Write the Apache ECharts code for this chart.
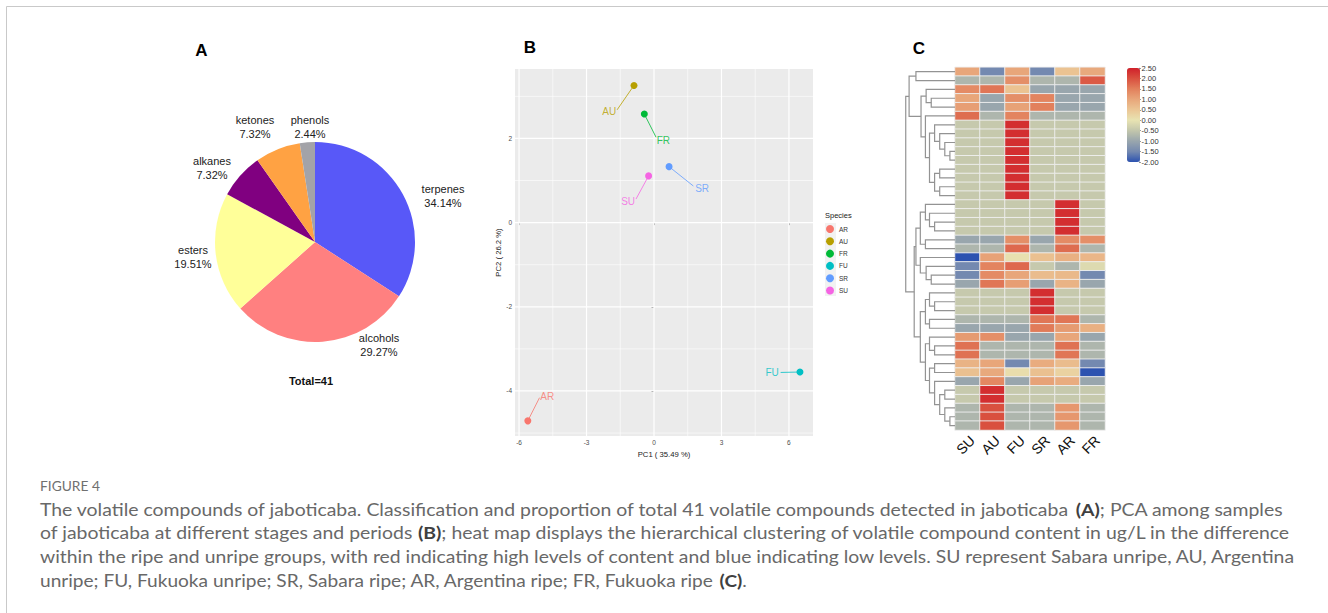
<!DOCTYPE html>
<html><head><meta charset="utf-8">
<script src="https://cdn.jsdelivr.net/npm/echarts@6/dist/echarts.min.js"></script>
<style>html,body{margin:0;padding:0;background:#fff;overflow:hidden}#main{width:1328px;height:613px}</style>
</head><body><div id="main"></div>
<script>
// ================= DATA =================
// Panel A: classes of volatile compounds (counts, total 41)
const pieCategories = ['terpenes', 'alcohols', 'esters', 'alkanes', 'ketones', 'phenols'];
const pieCounts = [14, 12, 8, 3, 3, 1];

// Panel B: PCA scores
const pcaSamples = ['AR', 'AU', 'FR', 'FU', 'SR', 'SU'];
const pcaPC1 = [-5.61, -0.89, -0.43, 6.49, 0.67, -0.24];
const pcaPC2 = [-4.71, 3.26, 2.58, -3.55, 1.33, 1.11];
const pcaXTicks = [-6, -3, 0, 3, 6];
const pcaYTicks = [-4, -2, 0, 2];

// Panel C: heat map (rows = 41 compounds in dendrogram order; cols = samples)
const heatColumns = ['SU', 'AU', 'FU', 'SR', 'AR', 'FR'];
const heatValues = [
  [1.00, -1.50, 1.00, -1.50, 0.55, 0.95],
  [-0.75, -0.75, 1.30, -0.75, -0.75, 1.90],
  [1.35, 1.60, 0.55, -1.00, -1.00, -1.00],
  [1.00, -1.00, 1.30, 1.45, -1.00, -1.00],
  [1.10, -1.00, 1.05, 1.50, -1.00, -1.00],
  [1.70, -0.75, 1.45, -0.75, -0.75, -0.75],
  [-0.45, -0.45, 2.35, -0.45, -0.45, -0.45],
  [-0.45, -0.45, 2.35, -0.45, -0.45, -0.45],
  [-0.45, -0.45, 2.35, -0.45, -0.45, -0.45],
  [-0.45, -0.45, 2.35, -0.45, -0.45, -0.45],
  [-0.45, -0.45, 2.35, -0.45, -0.45, -0.45],
  [-0.45, -0.45, 2.35, -0.45, -0.45, -0.45],
  [-0.45, -0.45, 2.35, -0.45, -0.45, -0.45],
  [-0.45, -0.45, 2.35, -0.45, -0.45, -0.45],
  [-0.45, -0.45, 2.35, -0.45, -0.45, -0.45],
  [-0.45, -0.45, -0.45, -0.45, 2.35, -0.45],
  [-0.45, -0.45, -0.45, -0.45, 2.35, -0.45],
  [-0.45, -0.45, -0.45, -0.45, 2.35, -0.45],
  [-0.45, -0.45, -0.45, -0.45, 2.35, -0.45],
  [-1.00, -1.00, 1.30, -1.00, 1.35, 1.30],
  [-0.75, -0.75, 1.75, -0.75, 1.70, -0.75],
  [-2.00, 1.05, 0.05, 0.60, 0.85, 0.75],
  [-1.50, 1.45, 1.75, -0.45, -0.75, -0.15],
  [-1.50, 1.35, 1.00, 0.65, 0.70, -1.50],
  [-1.00, 1.60, 1.10, -1.00, 0.80, -1.00],
  [-0.45, -0.45, -0.45, 2.35, -0.45, -0.45],
  [-0.45, -0.45, -0.45, 2.35, -0.45, -0.45],
  [-0.45, -0.45, -0.45, 2.35, -0.45, -0.45],
  [-0.75, -0.75, -0.75, 1.60, 1.60, -0.75],
  [-1.00, -1.00, -1.00, 1.55, 1.15, 0.85],
  [1.15, 1.30, -1.00, -1.00, 1.00, -1.00],
  [1.65, -0.75, -0.75, -0.75, 1.65, -0.75],
  [1.65, -0.75, -0.75, -0.75, 1.60, -0.75],
  [0.80, 1.00, -1.50, 0.90, 0.65, -1.50],
  [0.60, 0.95, 0.10, 0.60, 0.30, -2.00],
  [-1.00, 1.40, -1.00, 1.05, 0.90, -1.00],
  [-0.45, 2.35, -0.45, -0.45, -0.45, -0.45],
  [-0.45, 2.35, -0.45, -0.45, -0.45, -0.45],
  [-0.75, 2.00, -0.75, -0.75, 1.20, -0.75],
  [-0.75, 2.00, -0.75, -0.75, 1.20, -0.75],
  [-0.75, 2.00, -0.75, -0.75, 1.20, -0.75]
];
// Row dendrogram, hclust-style merges: [a, b, height]; negative = leaf (row) index, positive = earlier merge
const dendroMerges = [
  [-10, -11, 5], [-9, 1, 10], [-8, 2, 15], [-7, 3, 20], [-12, -13, 15], [-14, -15, 15],
  [5, 6, 20], [4, 7, 25], [-6, 8, 29], [-4, -5, 23.3], [-3, 10, 28.3], [11, 9, 33.3],
  [-1, -2, 38.3], [13, 12, 45],
  [-18, -19, 20], [-17, 15, 25], [-16, 16, 29], [-20, -21, 29], [17, 18, 34],
  [-24, -25, 23.3], [-23, 20, 28.3], [-22, 21, 34], [19, 22, 38.3],
  [-27, -28, 20], [-26, 24, 25], [-29, -30, 25], [25, 26, 29],
  [-32, -33, 20], [-31, 28, 25], [-34, -35, 20], [-37, -38, 10], [-40, -41, 5], [-39, 32, 10],
  [31, 33, 15], [-36, 34, 20], [30, 35, 25], [29, 36, 29], [27, 37, 34],
  [23, 38, 40], [14, 39, 48.3]
];
const colorbarMin = -2;
const colorbarMax = 2.5;
const colorbarStep = 0.5;

// ================= LAYOUT / STYLE =================
const FONT = 'Liberation Sans, Arial, sans-serif';
const pieColors = ['#5858F8', '#FF8080', '#FFFF99', '#800080', '#FFA243', '#A3A3A8'];
const pieCenter = [315, 242];
const pieLabelOffsets = [[128, -46], [64, 103], [-122, 15], [-103, -74], [-60, -115], [-5, -115]];
const pcaColors = {AR: '#F8766D', AU: '#B79F00', FR: '#00BA38', FU: '#00BFC4', SR: '#619CFF', SU: '#F564E3'};
// ggrepel-like label anchors and segment ends, in data units
const pcaLabelPos = {AR: [-4.75, -4.14], AU: [-1.99, 2.64], FR: [0.42, 1.95], FU: [5.25, -3.56], SR: [2.14, 0.80], SU: [-1.15, 0.50]};
const pcaSegEnd = {AR: [-5.09, -4.16], AU: [-1.64, 2.68], FR: [0.09, 2.03], FU: [5.63, -3.56], SR: [1.75, 0.87], SU: [-0.80, 0.56]};
const pcaXRange = [-6.18, 7.07];
const pcaYRange = [-5.07, 3.65];
const heatColors = ['#2C52B0', '#7489B0', '#99A6AD', '#C2C6AC', '#E8E3B2', '#EBC695', '#E8A67A', '#E2805C', '#D9503F', '#D0202A'];

// ================= BUILD =================
const chart = echarts.init(document.getElementById('main'), null, {renderer: 'svg'});
const total = pieCounts.reduce((a, b) => a + b, 0);

// grid lines for ggplot style panel
function midTicks(t, lo, hi) {
  const step = t[1] - t[0];
  const out = [t[0] - step / 2];
  for (let i = 0; i < t.length - 1; i++) out.push((t[i] + t[i + 1]) / 2);
  out.push(t[t.length - 1] + step / 2);
  return out.filter(v => v >= lo && v <= hi);
}
const pcaGridData = [];
midTicks(pcaXTicks, pcaXRange[0], pcaXRange[1]).forEach(v => pcaGridData.push([v, 0, 0]));
midTicks(pcaYTicks, pcaYRange[0], pcaYRange[1]).forEach(v => pcaGridData.push([v, 1, 0]));
pcaXTicks.forEach(v => pcaGridData.push([v, 0, 1]));
pcaYTicks.forEach(v => pcaGridData.push([v, 1, 1]));

// dendrogram segments
function buildDendro(merges) {
  const nodes = [], segs = [];
  const pos = r => r < 0 ? {y: -r, h: 0} : nodes[r - 1];
  merges.forEach(([a, b, h]) => {
    const A = pos(a), B = pos(b);
    segs.push([A.h, A.y, h, B.y, B.h]);
    nodes.push({y: (A.y + B.y) / 2, h: h});
  });
  return segs;
}
const dendroSegs = buildDendro(dendroMerges);
const dendroMax = 50;

const heatData = [];
heatValues.forEach((row, r) => row.forEach((v, c) => heatData.push([c, r, v])));
const rowIds = heatValues.map((_, i) => String(i + 1));

const series = [];
// PCA grid lines
series.push({
  type: 'custom', name: 'pca-grid', xAxisIndex: 0, yAxisIndex: 0, silent: true, z: 1,
  data: pcaGridData,
  renderItem: (params, api) => {
    const v = api.value(0), o = api.value(1), major = api.value(2);
    const p1 = o === 0 ? api.coord([v, pcaYRange[0]]) : api.coord([pcaXRange[0], v]);
    const p2 = o === 0 ? api.coord([v, pcaYRange[1]]) : api.coord([pcaXRange[1], v]);
    return {type: 'line', shape: {x1: p1[0], y1: p1[1], x2: p2[0], y2: p2[1]},
      style: {stroke: '#FFFFFF', lineWidth: major ? 1.2 : 0.6}};
  }
});
pcaSamples.forEach((s, i) => {
  series.push({
    type: 'line', name: s + '-seg', xAxisIndex: 0, yAxisIndex: 0, silent: true, z: 2,
    symbol: 'none', lineStyle: {color: pcaColors[s], width: 0.8},
    data: [[pcaPC1[i], pcaPC2[i]], pcaSegEnd[s]]
  });
});
pcaSamples.forEach((s, i) => {
  series.push({
    type: 'scatter', name: s, xAxisIndex: 0, yAxisIndex: 0, z: 4,
    symbol: 'circle', symbolSize: 7, itemStyle: {color: pcaColors[s], opacity: 1},
    data: [[pcaPC1[i], pcaPC2[i]]]
  });
});
series.push({
  type: 'scatter', name: 'pca-labels', xAxisIndex: 0, yAxisIndex: 0, z: 5, silent: true,
  symbolSize: 0,
  data: pcaSamples.map(s => ({value: pcaLabelPos[s], name: s,
    label: {show: true, position: 'inside', formatter: s, color: pcaColors[s], fontSize: 10, fontFamily: FONT}}))
});
// Pie
series.push({
  type: 'pie', name: 'classes', center: pieCenter, radius: 100, startAngle: 90, clockwise: true,
  silent: true, avoidLabelOverlap: false,
  data: pieCategories.map((c, i) => ({name: c, value: pieCounts[i], itemStyle: {color: pieColors[i]}})),
  label: {show: true, position: 'outside', formatter: '{b}\n{d}%', fontSize: 11, lineHeight: 14.5,
    color: '#222', fontFamily: FONT},
  labelLine: {show: false},
  labelLayout: p => ({x: pieCenter[0] + pieLabelOffsets[p.dataIndex][0], y: pieCenter[1] + pieLabelOffsets[p.dataIndex][1],
    align: 'center', verticalAlign: 'middle'})
});
// Heat map
const heatSeriesIndex = series.length;
series.push({
  type: 'heatmap', name: 'heat', xAxisIndex: 1, yAxisIndex: 1, data: heatData,
  itemStyle: {borderColor: '#EFEFEF', borderWidth: 0.9}, emphasis: {disabled: true}, silent: true
});
// Dendrogram
series.push({
  type: 'custom', name: 'dendro', xAxisIndex: 2, yAxisIndex: 2, silent: true,
  data: dendroSegs, encode: {x: [0, 2, 4], y: [1, 3]},
  renderItem: (params, api) => {
    const pts = [
      api.coord([api.value(0), api.value(1)]),
      api.coord([api.value(2), api.value(1)]),
      api.coord([api.value(2), api.value(3)]),
      api.coord([api.value(4), api.value(3)])
    ];
    return {type: 'polyline', shape: {points: pts}, style: {stroke: '#939393', lineWidth: 1.2, fill: null}};
  }
});

// caption
const captionLines = [
  [['The volatile compounds of jaboticaba. Classification and proportion of total 41 volatile compounds detected in jaboticaba ', 0], ['(A)', 1], ['; PCA among samples', 0]],
  [['of jaboticaba at different stages and periods ', 0], ['(B)', 1], ['; heat map displays the hierarchical clustering of volatile compound content in ug/L in the difference', 0]],
  [['within the ripe and unripe groups, with red indicating high levels of content and blue indicating low levels. SU represent Sabara unripe, AU, Argentina', 0]],
  [['unripe; FU, Fukuoka unripe; SR, Sabara ripe; AR, Argentina ripe; FR, Fukuoka ripe ', 0], ['(C)', 1], ['.', 0]]
];
const capX = 40, capY = [509, 532.5, 556, 580], capW = [1243, 1251, 1257, 707];
const capFont = 'Lato', capSize = 17.5;
const mctx = document.createElement('canvas').getContext('2d');
function measure(parts) {
  let w = 0;
  parts.forEach(([t, b]) => { mctx.font = (b ? 'bold ' : '') + capSize + 'px ' + capFont; w += mctx.measureText(t).width; });
  return w;
}
const graphics = [];
graphics.push({type: 'rect', shape: {x: 6.5, y: 6.5, width: 1340, height: 640}, style: {fill: null, stroke: '#C9C9C9', lineWidth: 1}, silent: true});
captionLines.forEach((parts, i) => {
  const w = measure(parts);
  const text = parts.map(([t, b]) => '{' + (b ? 'b' : 'n') + '|' + t + '}').join('');
  graphics.push({type: 'text', x: capX, y: capY[i], scaleX: capW[i] / w, silent: true,
    style: {text: text, verticalAlign: 'middle', align: 'left',
      rich: {n: {fontFamily: capFont, fontSize: capSize, fill: '#686868'},
             b: {fontFamily: capFont, fontSize: capSize, fontWeight: 'bold', fill: '#404040'}}}});
});
(function () {
  mctx.font = '12.5px ' + capFont;
  const w = mctx.measureText('FIGURE 4').width;
  graphics.push({type: 'text', x: 40, y: 486, scaleX: 60 / w, silent: true,
    style: {text: 'FIGURE 4', fontFamily: capFont, fontSize: 12.5, fill: '#707070', verticalAlign: 'middle'}});
})();
// panel letters and misc text
[['A', 201.5, 50], ['B', 530, 47.5], ['C', 919, 48]].forEach(([t, x, y]) => graphics.push({type: 'text', x: x, y: y, silent: true,
  style: {text: t, fontFamily: FONT, fontSize: 17, fontWeight: 'bold', fill: '#000', align: 'center', verticalAlign: 'middle'}}));
graphics.push({type: 'text', x: 311, y: 381, silent: true,
  style: {text: 'Total=' + total, fontFamily: FONT, fontSize: 11, fontWeight: 'bold', fill: '#111', align: 'center', verticalAlign: 'middle'}});
graphics.push({type: 'rect', shape: {x: 825, y: 223, width: 11, height: 73}, style: {fill: '#F2F2F2'}, silent: true, z: -1});
graphics.push({type: 'text', x: 825, y: 215.5, silent: true,
  style: {text: 'Species', fontFamily: FONT, fontSize: 7.5, fill: '#222', verticalAlign: 'middle'}});

const option = {
  animation: false,
  backgroundColor: '#FFFFFF',
  textStyle: {fontFamily: FONT},
  grid: [
    {left: 515, top: 69, width: 298, height: 367, show: true, backgroundColor: '#EBEBEB', borderWidth: 0, outerBoundsMode: 'none'},
    {left: 955, top: 67.3, width: 150, height: 362.7, outerBoundsMode: 'none'},
    {left: 904, top: 67.3, width: 51, height: 362.7, outerBoundsMode: 'none'},
    {left: 1139, top: 68, width: 1, height: 94, outerBoundsMode: 'none'}
  ],
  xAxis: [
    {gridIndex: 0, type: 'value', min: pcaXRange[0], max: pcaXRange[1],
      axisLine: {show: false}, splitLine: {show: false},
      axisTick: {show: true, length: 2.5, lineStyle: {color: '#333', width: 0.7}, customValues: pcaXTicks},
      axisLabel: {customValues: pcaXTicks, fontSize: 6.5, color: '#4D4D4D', margin: 3},
      name: 'PC1 ( 35.49 %)', nameLocation: 'middle', nameGap: 13, nameTextStyle: {fontSize: 7.7, color: '#222'}},
    {gridIndex: 1, type: 'category', data: heatColumns, axisLine: {show: false}, axisTick: {show: false},
      axisLabel: {rotate: 45, fontSize: 14, color: '#111', margin: 3, interval: 0, align: 'right', verticalAlign: 'top'}},
    {gridIndex: 2, type: 'value', min: 0, max: dendroMax, inverse: true, show: false},
    {gridIndex: 3, type: 'value', show: false}
  ],
  yAxis: [
    {gridIndex: 0, type: 'value', min: pcaYRange[0], max: pcaYRange[1],
      axisLine: {show: false}, splitLine: {show: false},
      axisTick: {show: true, length: 2.5, lineStyle: {color: '#333', width: 0.7}, customValues: pcaYTicks},
      axisLabel: {customValues: pcaYTicks, fontSize: 6.5, color: '#4D4D4D', margin: 3},
      name: 'PC2 ( 26.2 %)', nameLocation: 'middle', nameGap: 13, nameRotate: 90, nameTextStyle: {fontSize: 7.7, color: '#222'}},
    {gridIndex: 1, type: 'category', data: rowIds, inverse: true, show: false},
    {gridIndex: 2, type: 'value', min: 0.5, max: heatValues.length + 0.5, inverse: true, show: false},
    {gridIndex: 3, type: 'value', position: 'right', min: colorbarMin, max: colorbarMax, interval: colorbarStep,
      axisLine: {show: true, lineStyle: {color: '#9AA0B8', width: 0.6}},
      axisTick: {show: true, length: 2, lineStyle: {color: '#555', width: 0.6}},
      splitLine: {show: false},
      axisLabel: {fontSize: 7.5, color: '#333', margin: 1.5, formatter: v => v.toFixed(2)}}
  ],
  visualMap: {
    type: 'continuous', min: colorbarMin, max: colorbarMax, seriesIndex: heatSeriesIndex,
    calculable: false, left: 1127, top: 68, itemWidth: 13, itemHeight: 94, padding: 0,
    text: null, showLabel: false, hoverLink: false,
    inRange: {color: heatColors}
  },
  legend: {
    data: pcaSamples, orient: 'vertical', left: 826, top: 225, itemWidth: 8, itemHeight: 8, itemGap: 4.3,
    icon: 'circle', selectedMode: false, padding: 0,
    textStyle: {fontSize: 6.5, color: '#333', fontFamily: FONT}
  },
  graphic: graphics,
  series: series
};
chart.setOption(option);
</script>
</body></html>
